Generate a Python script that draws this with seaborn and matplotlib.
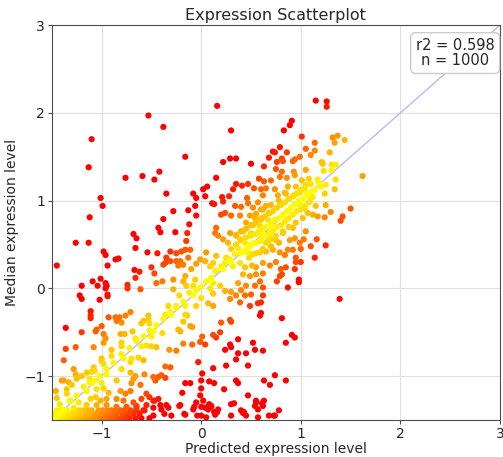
import seaborn as sns
import matplotlib.pyplot as plt
import numpy as np
import pandas as pd

# points, grouped by area of the plot (x = predicted, y = median)
upper_left = [(-0.53, 1.97), (-0.38, 1.84), (-1.10, 1.70), (-1.13, 1.38), (-0.76, 1.26), (-0.59, 1.28),
              (-0.47, 1.24), (-0.42, 1.33), (-1.01, 1.03), (-0.99, 0.94), (-1.12, 0.81), (-1.26, 0.52),
              (-1.13, 0.52), (-1.45, 0.26), (-0.98, 0.42), (-0.96, 0.38), (-0.86, 0.33), (-0.83, 0.34),
              (-0.94, 0.26), (-1.01, 0.11), (-1.09, 0.08), (-1.04, 0.03), (-0.96, 0.06), (-0.95, 0.03),
              (-0.96, 0.00), (-1.20, 0.03), (-1.22, -0.08), (-1.20, -0.12), (-1.02, -0.13), (-0.94, -0.07),
              (-0.94, -0.09), (-0.68, 0.62), (-0.65, 0.57), (-0.66, 0.46), (-0.54, 0.41), (-0.44, 0.40),
              (-0.43, 0.69), (-0.41, 0.64), (-0.38, 0.79), (-0.67, 0.21), (-0.62, 0.19), (-0.50, 0.24),
              (-0.47, 0.17), (-0.66, 0.12), (-0.74, 0.04), (-0.74, 0.00), (-0.61, -0.01), (-0.38, 0.27),
              (-0.45, 0.06), (-0.39, 0.08), (-0.53, -0.31), (-0.76, -0.31), (-0.82, -0.33), (-0.93, -0.33),
              (-1.11, -0.34)]

upper_mid = [(0.16, 2.08), (0.30, 1.80), (-0.16, 1.50), (0.22, 1.44), (0.29, 1.48), (0.35, 1.48),
             (0.50, 1.42), (0.63, 1.39), (0.68, 1.49), (0.72, 1.56), (0.15, 1.26), (0.06, 1.16),
             (0.02, 1.13), (-0.08, 1.08), (-0.05, 1.03), (0.04, 1.05), (0.21, 1.04), (0.32, 1.13),
             (0.35, 1.19), (0.41, 1.17), (0.47, 1.19), (0.53, 1.14), (0.58, 1.25), (0.63, 1.22),
             (0.70, 1.23), (0.60, 1.13), (0.65, 1.14), (-0.35, 1.08), (0.28, 1.05), (0.46, 1.03),
             (0.62, 1.06)]

upper_right = [(1.15, 2.14), (1.26, 2.13), (1.26, 2.07), (0.91, 1.91), (0.89, 1.86), (0.83, 1.80),
               (1.01, 1.73), (1.32, 1.72), (1.37, 1.74), (1.34, 1.66), (1.44, 1.69), (1.14, 1.66),
               (1.05, 1.59), (0.74, 1.55), (0.79, 1.61), (0.86, 1.55), (1.14, 1.57), (1.10, 1.52),
               (1.29, 1.55), (0.81, 1.48), (0.82, 1.45), (0.76, 1.44), (0.94, 1.47), (0.92, 1.45),
               (0.99, 1.50), (1.21, 1.44), (1.22, 1.42), (1.31, 1.41), (1.35, 1.41), (0.75, 1.36),
               (0.81, 1.33), (0.93, 1.33), (1.05, 1.35), (1.23, 1.34), (1.31, 1.35), (0.94, 1.29),
               (0.86, 1.26), (0.79, 1.27), (1.08, 1.25), (1.17, 1.24), (1.01, 1.23), (1.10, 1.19),
               (1.20, 1.16), (1.25, 1.18), (1.35, 1.24), (1.34, 1.13), (1.24, 1.08), (1.62, 1.28),
               (0.74, 1.13), (0.77, 1.06), (0.87, 1.16), (0.95, 1.16), (1.04, 1.14), (0.99, 1.09),
               (1.07, 1.06), (1.12, 1.04), (0.93, 1.06), (0.84, 1.09)]

center = [(-0.28, 0.88), (-0.06, 0.94), (-0.05, 0.83), (-0.13, 0.89), (-0.12, 0.73), (-0.14, 0.63),
          (-0.26, 0.64), (0.11, 0.97), (0.13, 0.96), (0.22, 0.99), (0.24, 0.86), (0.20, 0.84),
          (0.30, 0.83), (0.34, 0.94), (0.40, 0.93), (0.39, 0.83), (0.47, 0.97), (0.52, 0.92),
          (0.57, 0.98), (0.60, 0.90), (0.65, 0.94), (0.69, 0.86), (0.49, 0.83), (0.54, 0.80),
          (0.60, 0.80), (0.67, 0.78), (0.45, 0.75), (0.52, 0.72), (0.59, 0.71), (0.64, 0.69),
          (0.70, 0.71), (0.42, 0.65), (0.50, 0.63), (0.57, 0.63), (0.62, 0.61), (0.69, 0.63),
          (0.35, 0.61), (0.29, 0.63), (0.15, 0.69), (0.14, 0.63), (0.17, 0.60), (0.22, 0.56),
          (0.27, 0.52), (0.39, 0.56), (0.44, 0.52), (0.37, 0.46), (0.42, 0.42), (0.49, 0.48),
          (0.54, 0.52), (0.59, 0.54), (0.65, 0.52), (0.70, 0.56), (0.47, 0.41), (0.52, 0.39),
          (0.59, 0.41), (0.65, 0.42), (0.72, 0.44), (0.34, 0.39), (0.29, 0.33), (0.24, 0.29),
          (0.22, 0.22), (0.32, 0.25), (0.39, 0.29), (0.44, 0.24), (0.51, 0.26), (0.55, 0.24),
          (0.62, 0.29), (0.69, 0.26), (0.42, 0.16), (0.49, 0.14), (0.55, 0.16), (0.62, 0.17),
          (0.59, 0.08), (0.54, 0.03), (0.62, 0.01), (0.45, 0.03), (0.37, 0.06), (0.40, -0.02),
          (0.50, -0.07), (0.44, -0.08), (0.62, -0.08), (0.60, -0.16), (0.35, -0.08), (0.30, -0.04),
          (0.19, 0.03), (0.12, 0.06), (0.10, 0.10), (0.14, 0.20), (0.09, 0.25), (0.04, 0.31),
          (0.12, 0.29), (0.15, 0.37), (0.05, 0.41), (-0.01, 0.33), (-0.05, 0.28), (-0.10, 0.22),
          (-0.18, 0.27), (-0.21, 0.31), (-0.23, 0.26), (-0.13, 0.35), (-0.16, 0.44), (-0.11, 0.44),
          (-0.20, 0.42), (-0.25, 0.40), (-0.15, 0.54), (-0.31, 0.42), (-0.35, 0.35), (-0.31, 0.31),
          (-0.36, 0.29), (-0.25, 0.31), (-0.16, 0.14), (-0.15, 0.03), (-0.06, 0.10), (-0.08, 0.03),
          (-0.18, 0.08), (-0.28, 0.10), (-0.28, -0.01), (-0.22, -0.08), (-0.08, -0.08), (0.09, 0.00),
          (0.00, -0.11), (0.12, -0.06), (0.24, -0.03), (0.29, -0.12), (0.12, -0.20), (0.07, -0.17),
          (-0.05, -0.20), (-0.16, -0.20), (-0.25, -0.20), (0.39, -0.16), (0.49, -0.20), (0.57, -0.17),
          (-0.33, -0.20)]

dense_core = [(0.30, 0.45), (0.35, 0.50), (0.40, 0.55), (0.45, 0.58), (0.50, 0.60), (0.55, 0.62),
              (0.58, 0.65), (0.62, 0.68), (0.66, 0.70), (0.70, 0.74), (0.74, 0.78), (0.78, 0.80),
              (0.82, 0.84), (0.86, 0.88), (0.90, 0.92), (0.94, 0.96), (0.98, 1.00), (1.02, 1.02),
              (1.06, 1.08), (1.10, 1.10), (1.14, 1.12), (1.18, 1.20), (0.40, 0.40), (0.45, 0.45),
              (0.50, 0.50), (0.55, 0.52), (0.60, 0.56), (0.64, 0.60), (0.68, 0.62), (0.72, 0.66),
              (0.76, 0.70), (0.80, 0.72), (0.84, 0.76), (0.88, 0.80), (0.92, 0.84), (0.96, 0.88),
              (1.00, 0.90), (1.04, 0.94), (1.08, 0.98), (0.35, 0.60), (0.40, 0.65), (0.45, 0.68),
              (0.50, 0.72), (0.55, 0.75), (0.60, 0.78), (0.64, 0.82), (0.68, 0.86), (0.72, 0.88),
              (0.76, 0.92), (0.80, 0.95), (0.84, 0.98), (0.88, 1.02), (0.92, 1.05), (0.96, 1.08),
              (1.00, 1.12), (1.05, 1.18), (0.25, 0.35), (0.30, 0.30), (0.20, 0.25), (0.15, 0.20),
              (0.10, 0.12), (0.05, 0.08), (0.00, 0.02), (0.55, 0.85), (0.62, 0.90), (0.70, 0.95),
              (0.78, 1.00), (0.85, 1.08), (0.68, 0.55), (0.75, 0.60), (0.82, 0.65), (0.88, 0.70),
              (0.95, 0.75), (1.02, 0.80), (0.48, 0.35), (0.55, 0.40), (0.62, 0.45), (0.70, 0.48),
              (0.78, 0.52)]

right_side = [(1.50, 0.91), (1.42, 0.82), (1.40, 0.77), (1.30, 0.87), (1.25, 0.95), (1.15, 0.94),
              (1.24, 0.81), (1.17, 0.82), (1.12, 0.84), (1.07, 0.86), (1.04, 0.91), (0.99, 0.95),
              (1.09, 0.99), (1.16, 0.56), (1.25, 0.49), (1.10, 0.48), (1.14, 0.35), (1.05, 0.65),
              (1.03, 0.56), (0.99, 0.52), (1.00, 0.45), (0.92, 0.44), (0.87, 0.44), (0.95, 0.35),
              (1.00, 0.30), (0.95, 0.30), (0.84, 0.38), (0.79, 0.41), (0.75, 0.30), (0.85, 0.24),
              (0.80, 0.22), (0.94, 0.22), (0.81, 0.16), (0.79, 0.14), (0.76, 0.08), (0.98, 0.10),
              (0.98, 0.07), (0.87, 0.01), (1.39, -0.12), (0.92, 0.69), (0.85, 0.78), (0.92, 0.85),
              (0.82, 0.63), (0.75, 0.55), (0.89, 0.55), (0.94, 0.57)]

diagonal = [(-0.05, -0.02), (-0.12, -0.05), (-0.18, -0.15), (-0.25, -0.22), (-0.30, -0.30), (-0.38, -0.35),
            (-0.45, -0.42), (-0.52, -0.48), (-0.58, -0.55), (-0.65, -0.60), (-0.72, -0.68), (-0.80, -0.75),
            (-0.88, -0.85), (-0.95, -0.92), (-1.02, -1.00), (-1.10, -1.08), (-1.18, -1.12), (-1.25, -1.22),
            (-1.32, -1.28), (-1.40, -1.38), (-1.45, -1.42), (-0.90, -0.70), (-0.80, -0.62), (-0.60, -0.40),
            (-0.50, -0.55), (-0.70, -0.80), (-1.00, -0.80), (-1.10, -0.95), (-1.20, -1.00), (-1.30, -1.10),
            (-1.35, -1.20), (-1.45, -1.25), (-1.40, -1.05)]

lower_left = [(-1.36, -0.45), (-1.11, -0.26), (-1.11, -0.31), (-1.00, -0.43), (-0.86, -0.33), (-0.85, -0.37),
              (-0.80, -0.39), (-0.71, -0.27), (-0.58, -0.37), (-0.53, -0.35), (-0.52, -0.40), (-1.06, -0.49),
              (-1.05, -0.47), (-0.98, -0.52), (-1.20, -0.50), (-0.96, -0.57), (-0.98, -0.62), (-0.81, -0.52),
              (-0.77, -0.52), (-0.69, -0.49), (-0.66, -0.57), (-0.48, -0.49), (-0.39, -0.51), (-1.36, -0.69),
              (-1.26, -0.67), (-1.08, -0.67), (-0.80, -0.66), (-0.60, -0.66), (-0.55, -0.65), (-0.50, -0.66),
              (-0.45, -0.67), (-0.90, -0.77), (-0.78, -0.80), (-0.63, -0.79), (-0.58, -0.82), (-0.71, -0.84),
              (-1.00, -0.83), (-0.98, -0.86), (-1.38, -0.82), (-1.08, -0.90), (-1.28, -0.92), (-1.26, -0.98),
              (-1.15, -0.96), (-1.07, -0.94), (-0.95, -0.98), (-0.80, -0.92), (-0.71, -0.96), (-0.66, -1.00),
              (-0.57, -0.98), (-0.48, -1.01), (-0.46, -1.05), (-0.43, -1.01), (-0.40, -0.99), (-1.38, -1.05),
              (-1.33, -1.07), (-1.25, -1.03), (-1.12, -1.03), (-1.12, -1.07), (-1.07, -1.05), (-1.00, -1.08),
              (-0.85, -1.05), (-0.68, -1.03), (-0.70, -1.08), (-0.61, -1.10), (-1.46, -1.17), (-1.35, -1.15),
              (-1.15, -1.17), (-1.05, -1.15), (-0.98, -1.14), (-0.93, -1.19), (-0.81, -1.17), (-0.76, -1.20),
              (-0.71, -1.17), (-0.55, -1.20), (-0.60, -1.26), (-0.52, -1.24), (-0.48, -1.28), (-0.43, -1.26),
              (-0.41, -1.33), (-1.42, -1.32), (-1.31, -1.28), (-1.23, -1.30), (-1.11, -1.26), (-1.06, -1.24),
              (-1.01, -1.28), (-0.95, -1.26), (-0.85, -1.26), (-0.78, -1.28), (-0.68, -1.30), (-0.55, -1.33),
              (-0.48, -1.36), (-1.15, -1.33), (-1.05, -1.33), (-0.95, -1.33), (-0.85, -1.35), (-0.75, -1.35),
              (-0.65, -1.36), (-1.28, -1.36), (-1.38, -1.38)]

floor_rows = [(-1.48, -1.48), (-1.44, -1.48), (-1.40, -1.48), (-1.36, -1.48), (-1.32, -1.48), (-1.28, -1.48),
              (-1.24, -1.48), (-1.20, -1.48), (-1.16, -1.48), (-1.12, -1.48), (-1.08, -1.48), (-1.04, -1.48),
              (-1.00, -1.48), (-0.96, -1.48), (-0.92, -1.48), (-0.88, -1.48), (-0.84, -1.48), (-0.80, -1.48),
              (-0.76, -1.48), (-0.72, -1.48), (-0.66, -1.48), (-0.60, -1.48), (-0.52, -1.48),
              (-1.47, -1.43), (-1.42, -1.43), (-1.37, -1.43), (-1.33, -1.43), (-1.29, -1.43), (-1.25, -1.43),
              (-1.21, -1.43), (-1.17, -1.43), (-1.13, -1.43), (-1.09, -1.43), (-1.05, -1.43), (-1.01, -1.43),
              (-0.97, -1.43), (-0.93, -1.43), (-0.89, -1.43), (-0.85, -1.43), (-0.79, -1.43), (-0.74, -1.43),
              (-0.68, -1.43), (-0.62, -1.43),
              (-1.45, -1.39), (-1.39, -1.39), (-1.34, -1.39), (-1.27, -1.39), (-1.22, -1.39), (-1.18, -1.39),
              (-1.14, -1.39), (-1.10, -1.39), (-1.03, -1.39), (-0.99, -1.39), (-0.94, -1.39), (-0.90, -1.39),
              (-0.86, -1.39), (-0.81, -1.39), (-0.77, -1.39), (-0.71, -1.39), (-0.65, -1.39), (-0.58, -1.39),
              (-1.49, -1.50), (-1.45, -1.50), (-1.41, -1.50), (-1.37, -1.50), (-1.33, -1.50), (-1.29, -1.50),
              (-1.25, -1.50)]

lower_mid = [(-0.36, -0.30), (-0.31, -0.27), (-0.16, -0.30), (-0.14, -0.31), (-0.18, -0.38), (-0.11, -0.43),
             (-0.09, -0.44), (-0.23, -0.47), (-0.21, -0.49), (0.20, -0.39), (0.29, -0.36), (0.30, -0.38),
             (0.19, -0.50), (0.12, -0.53), (0.15, -0.56), (0.01, -0.55), (-0.01, -0.61), (0.04, -0.64),
             (-0.09, -0.64), (-0.18, -0.63), (-0.32, -0.70), (-0.25, -0.71), (-0.03, -0.84), (0.12, -0.91),
             (0.29, -0.64), (0.30, -0.67), (0.37, -0.58), (0.24, -0.70), (0.45, -0.74), (0.37, -0.74),
             (0.52, -0.62), (0.54, -0.70), (0.62, -0.71), (0.59, -0.31), (0.60, -0.28), (0.35, -0.81),
             (0.47, -0.88), (0.25, -0.88), (0.01, -0.97), (-0.36, -0.89), (-0.31, -0.90), (-0.36, -1.02),
             (-0.16, -1.08), (-0.11, -1.08), (0.00, -1.05), (0.08, -1.06), (0.13, -1.08), (0.00, -1.14),
             (-0.01, -1.22), (-0.19, -1.19), (0.23, -1.15), (0.35, -1.05), (0.37, -1.08), (0.63, -1.05),
             (0.69, -1.10), (0.47, -1.22), (0.55, -1.28), (0.61, -1.31), (0.54, -1.34), (0.33, -1.31),
             (-0.05, -1.30), (0.08, -1.32), (0.10, -1.35), (0.04, -1.36), (0.00, -1.35), (-0.07, -1.35),
             (0.16, -1.41), (0.14, -1.44), (0.42, -1.42), (0.45, -1.45), (-0.35, -1.33), (-0.33, -1.36),
             (-0.21, -1.33), (-0.16, -1.44), (-0.04, -1.45), (0.05, -1.47), (0.30, -1.45), (0.57, -1.47),
             (0.68, -1.45), (0.81, -0.34), (0.91, -0.53), (0.94, -0.56), (0.85, -0.62), (0.74, -0.99),
             (0.85, -1.05), (0.78, -1.39), (0.74, -1.45), (-0.65, -1.34), (-0.47, -1.28), (-0.57, -1.39),
             (-0.48, -1.45), (-0.40, -1.38), (-0.37, -1.43), (-0.30, -1.45), (-0.22, -1.34), (-0.17, -1.43),
             (-0.08, -1.38), (0.00, -1.45), (0.02, -1.28), (0.07, -1.38), (0.10, -1.34), (0.13, -1.41),
             (0.17, -1.38), (0.30, -1.32), (0.40, -1.39), (0.43, -1.41), (0.55, -1.30), (0.57, -1.38),
             (0.62, -1.34), (0.63, -1.28), (0.73, -1.45)]

r2_value = 0.598
n_genes = 1000

groups = [upper_left, upper_mid, upper_right, center, dense_core, right_side,
          diagonal, lower_left, floor_rows, lower_mid]
pts = np.array([p for g in groups for p in g])
df = pd.DataFrame({'predicted': pts[:, 0], 'median': pts[:, 1]})

# colour by distance from the identity line: yellow on it, red far off
df['resid'] = (df['median'] - df['predicted']).abs()
df = df.sort_values('resid', ascending=False)

sns.set_style("whitegrid", {'axes.edgecolor': '0.3', 'grid.color': '0.88'})
fig = plt.figure(figsize=(5.03, 4.57), dpi=100)
ax = fig.add_axes([0.103, 0.081, 0.891, 0.864])

ax.plot([-1.5, 3], [-1.5, 3], color='#b8b8ff', lw=1, zorder=1)
sns.scatterplot(data=df, x='predicted', y='median', hue='resid', palette='autumn_r',
                hue_norm=(0, 0.9), s=20, linewidth=0, legend=False, ax=ax, zorder=2)

ax.set_xlim(-1.5, 3)
ax.set_ylim(-1.5, 3)
ax.set_xticks([-1, 0, 1, 2, 3])
ax.set_yticks([-1, 0, 1, 2, 3])
ax.tick_params(left=True, bottom=True, length=3, pad=2, labelsize=10, color='0.3')
ax.set_title('Expression Scatterplot', fontsize=11.5, pad=4)
ax.set_xlabel('Predicted expression level', fontsize=10, labelpad=1)
ax.set_ylabel('Median expression level', fontsize=10, labelpad=4)
ax.text(0.9, 0.968, f'r2 = {r2_value}\nn = {n_genes}', transform=ax.transAxes,
        ha='center', va='top', multialignment='center', fontsize=10.5, linespacing=1.05,
        bbox=dict(boxstyle='round,pad=0.35', fc='white', ec='0.8'), zorder=5)

fig.savefig('out.png', dpi=100)
